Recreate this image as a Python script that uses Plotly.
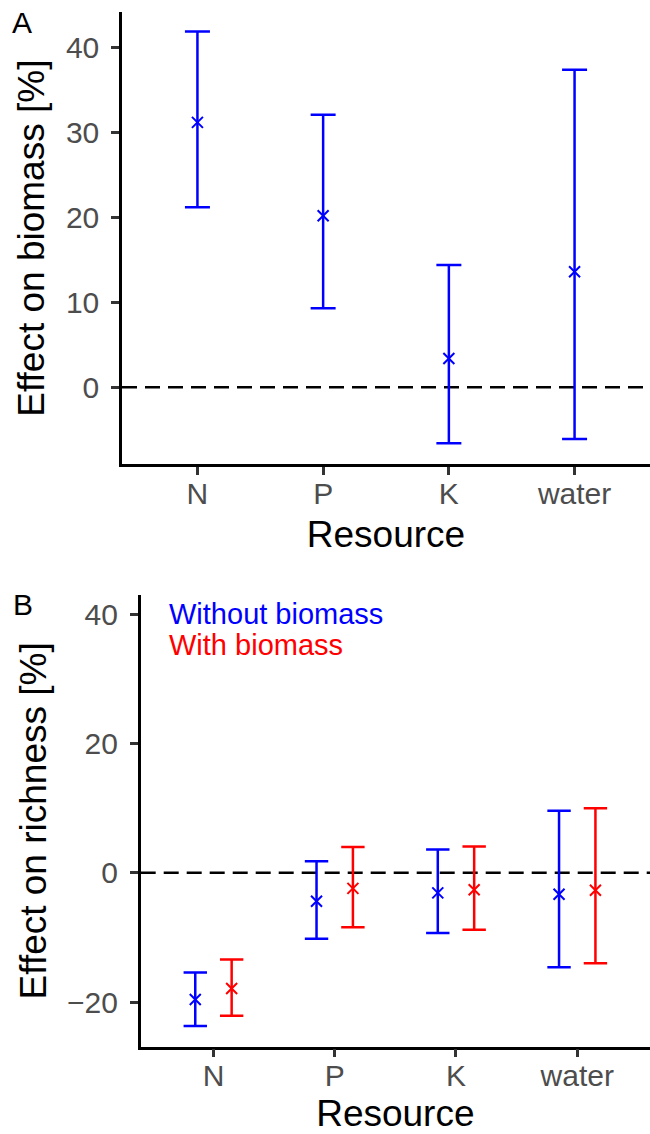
import plotly.graph_objects as go

# ---- data ----
resources = ["N", "P", "K", "water"]

biomass_est = [31.2, 20.2, 3.4, 13.6]
biomass_lo = [21.2, 9.3, -6.6, -6.1]
biomass_hi = [41.9, 32.1, 14.4, 37.4]

rich_without_est = [-19.6, -4.4, -3.1, -3.3]
rich_without_lo = [-23.7, -10.2, -9.3, -14.6]
rich_without_hi = [-15.4, 1.8, 3.6, 9.6]

rich_with_est = [-17.9, -2.4, -2.6, -2.7]
rich_with_lo = [-22.1, -8.4, -8.8, -14.0]
rich_with_hi = [-13.4, 4.0, 4.1, 10.0]

panel_labels = ["A", "B"]
legend_labels = ["Without biomass", "With biomass"]

# ---- style ----
FONT = "Liberation Sans, Arial, Helvetica, sans-serif"
BLUE = "#0000FF"
RED = "#FF0000"
DODGE = 0.15


def err_trace(xpos, est, lo, hi, color, xa, ya, capw):
    return go.Scatter(
        x=xpos, y=est, mode="markers",
        marker=dict(symbol="x-thin", size=11, color=color,
                    line=dict(width=2, color=color)),
        error_y=dict(type="data", symmetric=False,
                     array=[h - e for h, e in zip(hi, est)],
                     arrayminus=[e - l for e, l in zip(est, lo)],
                     color=color, thickness=2.5, width=capw),
        xaxis=xa, yaxis=ya, showlegend=False, hoverinfo="skip",
    )


idx = list(range(len(resources)))

fig = go.Figure()
fig.add_trace(err_trace(idx, biomass_est, biomass_lo, biomass_hi, BLUE, "x", "y", 12.5))
fig.add_trace(err_trace([i - DODGE for i in idx], rich_without_est, rich_without_lo,
                        rich_without_hi, BLUE, "x2", "y2", 11.7))
fig.add_trace(err_trace([i + DODGE for i in idx], rich_with_est, rich_with_lo,
                        rich_with_hi, RED, "x2", "y2", 11.7))

axis_common = dict(
    showline=True, linecolor="black", linewidth=2.5, mirror=False,
    ticks="outside", ticklen=8, tickwidth=2.5, tickcolor="#333333",
    showgrid=False, zeroline=False, automargin=False,
    tickfont=dict(family=FONT, size=30, color="#4D4D4D"),
)
xcommon = dict(axis_common, tickmode="array", tickvals=idx, ticktext=resources,
               range=[-0.6, 3.6], ticklabelstandoff=-7,
               title=dict(text="Resource", font=dict(family=FONT, size=37, color="black"),
                          standoff=13))
ycommon = dict(axis_common, ticklabelstandoff=6)

fig.update_layout(
    width=650, height=1134,
    margin=dict(l=0, r=0, t=0, b=0),
    paper_bgcolor="white", plot_bgcolor="white",
    font=dict(family=FONT),
    xaxis=dict(xcommon, domain=[122 / 650, 1.0], anchor="y"),
    yaxis=dict(ycommon, domain=[1 - 464.3 / 1134, 1 - 12 / 1134], anchor="x",
               range=[-9.07, 44.2], tickvals=[0, 10, 20, 30, 40],
               title=dict(text="Effect on biomass [%]",
                          font=dict(family=FONT, size=37, color="black"), standoff=10)),
    xaxis2=dict(xcommon, domain=[140.7 / 650, 1.0], anchor="y2"),
    yaxis2=dict(ycommon, domain=[1 - 1046.7 / 1134, 1 - 595 / 1134], anchor="x2",
                range=[-26.9, 43.0], tickvals=[-20, 0, 20, 40],
                title=dict(text="Effect on richness [%]",
                           font=dict(family=FONT, size=37, color="black"), standoff=10)),
)

# zero reference lines
for ya, xa in [("y", "x"), ("y2", "x2")]:
    fig.add_shape(type="line", xref=f"{xa} domain", x0=0, x1=1, yref=ya, y0=0, y1=0,
                  line=dict(color="black", width=2.5, dash="15px,8px"), layer="below")

# panel labels
fig.add_annotation(text=panel_labels[0], xref="paper", yref="paper", x=21.7 / 650,
                   y=1 - 22 / 1134, xanchor="center", yanchor="middle", showarrow=False,
                   font=dict(family=FONT, size=30, color="black"))
fig.add_annotation(text=panel_labels[1], xref="paper", yref="paper", x=23 / 650,
                   y=1 - 604 / 1134, xanchor="center", yanchor="middle", showarrow=False,
                   font=dict(family=FONT, size=30, color="black"))

# legend text
fig.add_annotation(text=legend_labels[0], xref="paper", yref="paper", x=167 / 650,
                   y=1 - 614 / 1134, xanchor="left", yanchor="middle", showarrow=False,
                   font=dict(family=FONT, size=29, color=BLUE))
fig.add_annotation(text=legend_labels[1], xref="paper", yref="paper", x=167 / 650,
                   y=1 - 645 / 1134, xanchor="left", yanchor="middle", showarrow=False,
                   font=dict(family=FONT, size=29, color=RED))

fig.write_html("out.html", config={"displayModeBar": False},
               post_script="document.body.style.margin='0';document.body.style.padding='0';")
